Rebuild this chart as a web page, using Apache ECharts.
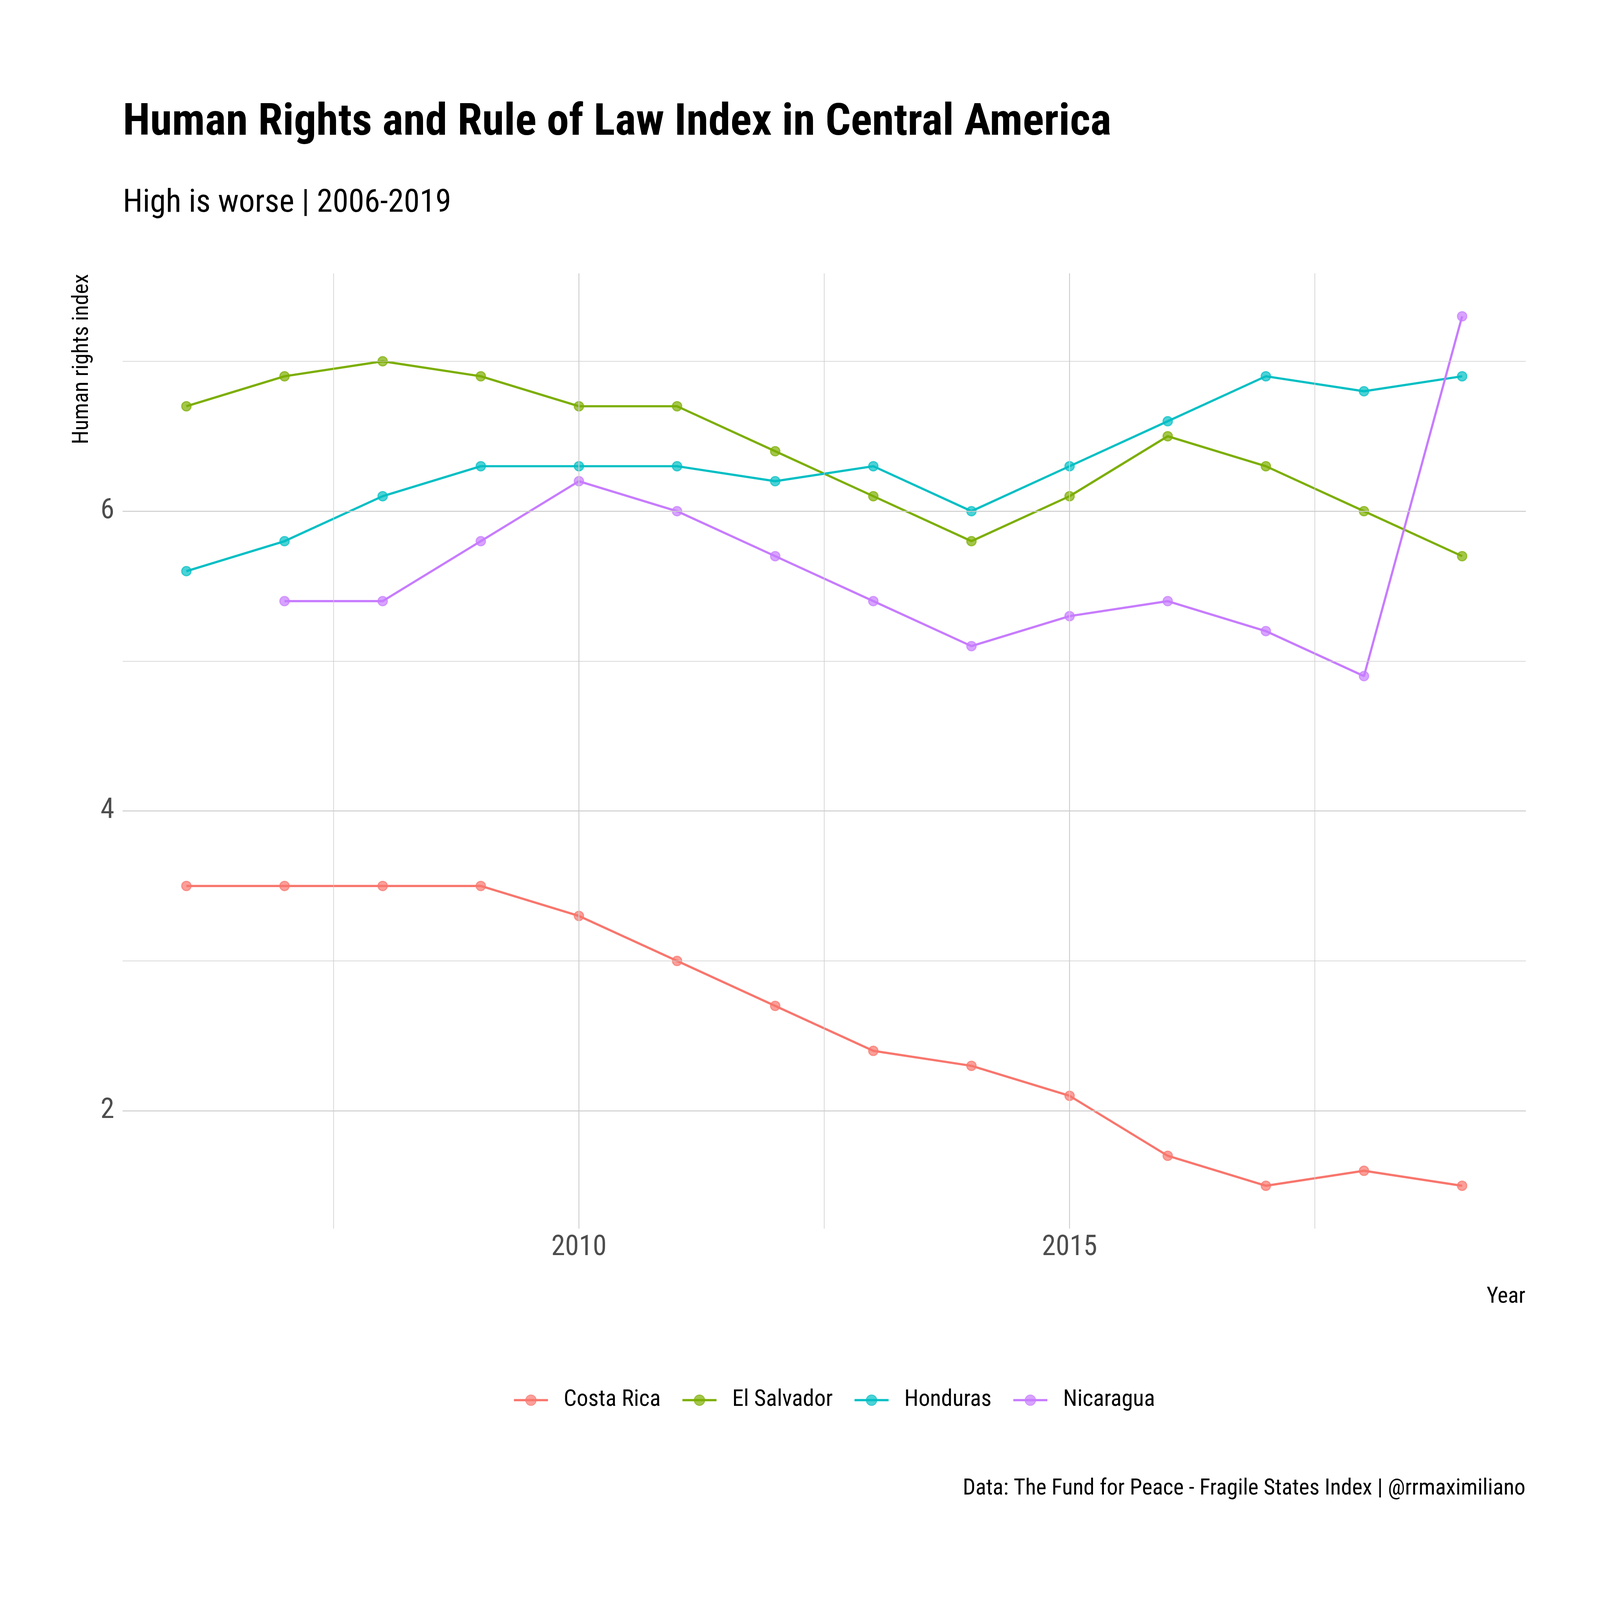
<!DOCTYPE html>
<html>
<head>
<meta charset="utf-8">
<script src="https://cdn.jsdelivr.net/npm/echarts@6/dist/echarts.min.js"></script>
<style>html,body{margin:0;padding:0;background:#fff;overflow:hidden;}#c{width:100vw;height:100vh;}</style>
</head>
<body>
<div id="c"></div>
<script>
const years = [2006,2007,2008,2009,2010,2011,2012,2013,2014,2015,2016,2017,2018,2019];
const countries = ['Costa Rica','El Salvador','Honduras','Nicaragua'];
const costaRica  = [3.5,3.5,3.5,3.5,3.3,3.0,2.7,2.4,2.3,2.1,1.7,1.5,1.6,1.5];
const elSalvador = [6.7,6.9,7.0,6.9,6.7,6.7,6.4,6.1,5.8,6.1,6.5,6.3,6.0,5.7];
const honduras   = [5.6,5.8,6.1,6.3,6.3,6.3,6.2,6.3,6.0,6.3,6.6,6.9,6.8,6.9];
const nicaragua  = [null,5.4,5.4,5.8,6.2,6.0,5.7,5.4,5.1,5.3,5.4,5.2,4.9,7.3];
const xTickLabels = [2010, 2015];
const yTickLabels = [2, 4, 6];
const xMajorGrid = [2010, 2015];
const xMinorGrid = [2007.5, 2012.5, 2017.5];
const yMajorGrid = [2, 4, 6];
const yMinorGrid = [3, 5, 7];
const titleText = 'Human Rights and Rule of Law Index in Central America';
const subtitleText = 'High is worse | 2006-2019';
const captionText = 'Data: The Fund for Peace - Fragile States Index | @rrmaximiliano';

const FONT = "'Roboto Condensed', 'Liberation Sans Narrow', 'DejaVu Sans Condensed', Roboto, sans-serif";
const colors = ['#F8766D','#7CAE00','#00BFC4','#C77CFF'];
const alphaColors = ['rgba(248,118,109,0.7)','rgba(124,174,0,0.7)','rgba(0,191,196,0.7)','rgba(199,124,255,0.7)'];
const valueSets = [costaRica, elSalvador, honduras, nicaragua];

const el = document.getElementById('c');
const W = el.clientWidth || window.innerWidth, H = el.clientHeight || window.innerHeight;
const sx = W / 7191, sy = H / 5433;
const px = v => v * sx;   // horizontal positions and sizes
const py = v => v * sy;   // vertical positions
const f = v => v * sx;    // font / stroke sizes

const chart = echarts.init(el, null, {renderer:'canvas'});

const gridLines = [];
xMajorGrid.forEach(v => gridLines.push({xAxis: v, lineStyle:{color:'#cccccc', width:f(4), type:'solid'}}));
xMinorGrid.forEach(v => gridLines.push({xAxis: v, lineStyle:{color:'#cccccc', width:f(2.7), type:'solid'}}));
yMajorGrid.forEach(v => gridLines.push({yAxis: v, lineStyle:{color:'#cccccc', width:f(4), type:'solid'}}));
yMinorGrid.forEach(v => gridLines.push({yAxis: v, lineStyle:{color:'#cccccc', width:f(2.7), type:'solid'}}));

const series = [{
  type:'line', name:'_grid', data:[], silent:true, z:1,
  markLine:{silent:true, symbol:['none','none'], label:{show:false}, animation:false, data: gridLines}
}];
const pointSeries = [];
countries.forEach((name, i) => {
  const d = [];
  years.forEach((y, j) => { if (valueSets[i][j] !== null) d.push([y, valueSets[i][j]]); });
  series.push({
    type:'line', name: name, data: d, z: 4,
    symbol:'circle', symbolSize: f(42), showSymbol:false,
    lineStyle:{color: colors[i], width: f(10)},
    itemStyle:{color: alphaColors[i], borderColor: alphaColors[i], borderWidth: f(5)},
    emphasis:{disabled:true},
    animation:false
  });
  pointSeries.push({
    type:'scatter', name: name, data: d, z: 3,
    symbol:'circle', symbolSize: f(42),
    itemStyle:{color: alphaColors[i], borderColor: alphaColors[i], borderWidth: f(5), opacity:1},
    emphasis:{disabled:true},
    animation:false
  });
});
pointSeries.forEach(s => series.push(s));

const option = {
  backgroundColor:'#ffffff',
  animation:false,
  grid:{left:px(551), right:W - px(6858), top:py(928), bottom:H - py(4172), containLabel:false},
  xAxis:{
    type:'value', min:2005.35, max:2019.65,
    axisLine:{show:false}, axisTick:{show:false}, splitLine:{show:false},
    axisLabel:{customValues: xTickLabels, margin:py(18), fontSize:f(126), color:'#4d4d4d', fontFamily:FONT,
      formatter: v => String(Math.round(v))}
  },
  yAxis:{
    type:'value', min:1.214, max:7.587,
    axisLine:{show:false}, axisTick:{show:false}, splitLine:{show:false},
    axisLabel:{customValues: yTickLabels, margin:px(37), fontSize:f(126), color:'#4d4d4d', fontFamily:FONT,
      formatter: v => String(Math.round(v))}
  },
  legend:{
    data: countries, left: px(2296), top: py(4731) - f(29.5), orient:'horizontal',
    itemWidth:f(153), itemHeight:f(59), itemGap:f(93),
    textStyle:{fontSize:f(103), color:'#000', fontFamily:FONT, padding:[0,0,0,f(62)]},
    lineStyle:{width:f(10)},
    selectedMode:false
  },
  series: series,
  graphic:[
    {type:'text', x:px(552), y:py(420), style:{text:titleText, fontSize:f(200), fontWeight:'bold', fontFamily:FONT, fill:'#000', align:'left', verticalAlign:'middle'}},
    {type:'text', x:px(552), y:py(692), style:{text:subtitleText, fontSize:f(144), fontFamily:FONT, fill:'#000', align:'left', verticalAlign:'middle'}},
    {type:'text', x:px(370), y:py(930), rotation:Math.PI/2, style:{text:'Human rights index', fontSize:f(100), fontFamily:FONT, fill:'#000', align:'right', verticalAlign:'middle'}},
    {type:'text', x:px(6856), y:py(4405), style:{text:'Year', fontSize:f(100), fontFamily:FONT, fill:'#000', align:'right', verticalAlign:'middle'}},
    {type:'text', x:px(6856), y:py(5056), style:{text:captionText, fontSize:f(100), fontFamily:FONT, fill:'#000', align:'right', verticalAlign:'middle'}}
  ]
};
chart.setOption(option);
</script>
</body>
</html>
